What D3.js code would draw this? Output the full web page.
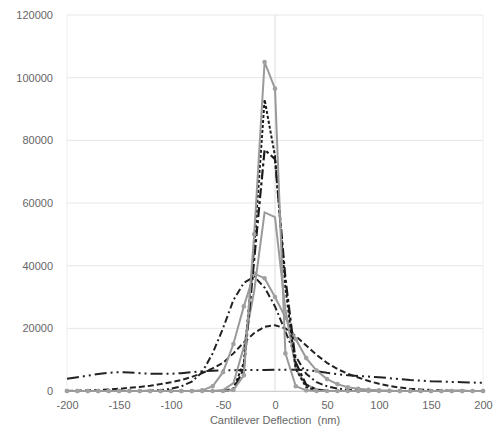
<!DOCTYPE html>
<html>
<head>
<meta charset="utf-8">
<script src="https://d3js.org/d3.v7.min.js"></script>
<style>
  body { margin: 0; background: #fff; }
  text { font-family: "Liberation Sans", Arial, sans-serif; fill: #666; }
</style>
</head>
<body>
<script>
// deflection bins (nm)
var deflection = d3.range(-200, 201, 10);

// series values, one per bin from -200 to 200
var seriesA = [0,0,0,0,0,0,0,0,0,0, 0,0,0,0,0,0,300,5000,50000,105000, 96500,12000,1500,200,0,0,0,0,0,0, 0,0,0,0,0,0,0,0,0,0, 0];
var seriesB = [0,0,0,0,0,0,0,0,0,0, 0,0,0,0,0,0,800,9000,46000,93000, 75000,33000,7000,1200,200,0,0,0,0,0, 0,0,0,0,0,0,0,0,0,0, 0];
var seriesC = [0,0,0,0,0,0,0,0,0,0, 0,0,0,0,0,0,500,7000,42000,77000, 74000,36000,9000,2000,400,0,0,0,0,0, 0,0,0,0,0,0,0,0,0,0, 0];
var seriesD = [0,0,0,0,0,0,0,0,0,0, 0,0,0,0,0,300,2500,14000,32000,57000, 55500,26000,7000,2000,600,100,0,0,0,0, 0,0,0,0,0,0,0,0,0,0, 0];
var seriesE = [0,0,0,0,0,0,0,0,0,0, 0,0,0,200,1500,6000,15000,27000,37500,36000, 30000,23500,16500,10500,6500,3800,2200,1200,700,400, 200,100,0,0,0,0,0,0,0,0, 0];
var seriesF = [0,0,0,0,0,0,0,0,100,300, 700,1500,3000,6000,12000,20000,29000,34500,36500,33000, 27000,19000,11000,5500,2800,1500,800,400,200,0, 0,0,0,0,0,0,0,0,0,0, 0];
var seriesG = [0,100,200,300,500,700,1000,1300,1700,2200, 2800,3500,4500,5700,7200,9000,12000,15500,18500,20500, 21000,20000,17500,14500,11500,9000,7000,5500,4300,3200, 2300,1600,1100,700,500,300,200,100,50,0, 0];
var seriesH = [3900,4400,4900,5400,5800,6000,5900,5700,5500,5500, 5500,5700,6000,6300,6500,6600,6600,6700,6700,6700, 6800,6800,6800,6700,6300,5800,5400,5000,4800,4600, 4400,4100,3800,3500,3300,3100,3000,2900,2800,2700, 2600];

var yTicks = [0, 20000, 40000, 60000, 80000, 100000, 120000];
var xTicks = [-200, -150, -100, -50, 0, 50, 100, 150, 200];

var w = 495, h = 428;
var margin = { left: 67, right: 12, top: 15, bottom: 37 };

var x = d3.scaleLinear().domain([-200, 200]).range([margin.left, w - margin.right]);
var y = d3.scaleLinear().domain([0, 120000]).range([h - margin.bottom, margin.top]);

var svg = d3.select("body").append("svg")
    .attr("width", w)
    .attr("height", h);

// gridlines
svg.append("g")
    .selectAll("line")
    .data(yTicks)
    .enter()
    .append("line")
    .attr("x1", x(-200))
    .attr("x2", x(200))
    .attr("y1", function (d) { return y(d); })
    .attr("y2", function (d) { return y(d); })
    .attr("stroke", "#e6e6e6")
    .attr("stroke-width", 1);

// plot edges and the vertical axis at 0
[-200, 0, 200].forEach(function (v) {
    svg.append("line")
        .attr("x1", x(v)).attr("x2", x(v))
        .attr("y1", y(120000)).attr("y2", y(0))
        .attr("stroke", v === 0 ? "#dcdcdc" : "#eeeeee")
        .attr("stroke-width", 1);
});

// plain hyphen minus like the original
var plain = function (d) { return String(d); };

// y axis labels
var yAxis = svg.append("g")
    .attr("transform", "translate(" + (margin.left - 4) + ",0)")
    .call(d3.axisLeft(y).tickValues(yTicks).tickSize(0).tickPadding(10).tickFormat(plain));
yAxis.select(".domain").remove();
yAxis.selectAll("text").style("font-size", "11px").attr("fill", "#666");

// x axis labels
var xAxis = svg.append("g")
    .attr("transform", "translate(0," + y(0) + ")")
    .call(d3.axisBottom(x).tickValues(xTicks).tickSize(0).tickPadding(10).tickFormat(plain));
xAxis.select(".domain").attr("stroke", "#d0d0d0");
xAxis.selectAll("text").style("font-size", "11px").attr("fill", "#666");

svg.append("text")
    .attr("x", x(0))
    .attr("y", 424)
    .attr("text-anchor", "middle")
    .style("font-size", "11px")
    .attr("xml:space", "preserve")
    .text("Cantilever Deflection  (nm)");

var line = d3.line()
    .x(function (d, i) { return x(deflection[i]); })
    .y(function (d) { return y(d); });

var series = [
    { values: seriesH, color: "#222", width: 2, dash: "12,4,2,4,2,4", markers: false },
    { values: seriesG, color: "#222", width: 2, dash: "6,3", markers: false },
    { values: seriesF, color: "#222", width: 2, dash: "7,3,2,3", markers: false },
    { values: seriesE, color: "#9a9a9a", width: 2, dash: null, markers: true },
    { values: seriesD, color: "#9a9a9a", width: 2, dash: null, markers: false },
    { values: seriesC, color: "#1a1a1a", width: 2.2, dash: "10,3,3,3", markers: false },
    { values: seriesB, color: "#1a1a1a", width: 2, dash: "3,2", markers: false },
    { values: seriesA, color: "#9a9a9a", width: 2, dash: null, markers: true }
];

series.forEach(function (s) {
    svg.append("path")
        .datum(s.values)
        .attr("fill", "none")
        .attr("stroke", s.color)
        .attr("stroke-width", s.width)
        .attr("stroke-dasharray", s.dash)
        .attr("d", line);

    if (s.markers) {
        svg.append("g")
            .selectAll("circle")
            .data(s.values)
            .enter()
            .append("circle")
            .attr("cx", function (d, i) { return x(deflection[i]); })
            .attr("cy", function (d) { return y(d); })
            .attr("r", 2.3)
            .attr("fill", "#a0a0a0");
    }
});
</script>
</body>
</html>
